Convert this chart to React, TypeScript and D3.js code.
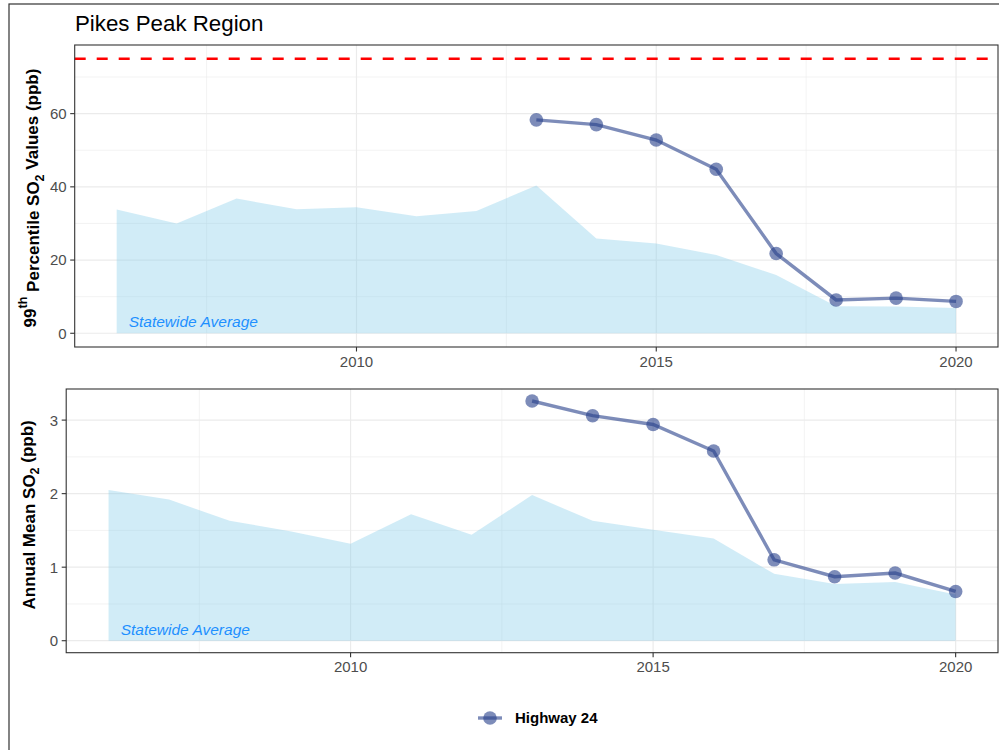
import React from "react";
import * as d3 from "d3";

const years = [2006, 2007, 2008, 2009, 2010, 2011, 2012, 2013, 2014, 2015, 2016, 2017, 2018, 2019, 2020];
const state99 = [33.8, 30.0, 36.8, 33.9, 34.4, 32.0, 33.4, 40.4, 25.9, 24.5, 21.4, 15.9, 7.4, 7.3, 6.9];
const stateMean = [2.05, 1.92, 1.63, 1.49, 1.32, 1.72, 1.44, 1.98, 1.63, 1.51, 1.39, 0.91, 0.77, 0.80, 0.63];

const siteYears = [2013, 2014, 2015, 2016, 2017, 2018, 2019, 2020];
const site99 = [58.3, 57.0, 52.8, 44.8, 21.8, 9.1, 9.6, 8.7];
const siteMean = [3.26, 3.06, 2.94, 2.58, 1.10, 0.87, 0.92, 0.67];

const xTicks = [2010, 2015, 2020];
const xMinor = [2007.5, 2012.5, 2017.5];
const y99Ticks = [0, 20, 40, 60];
const y99Minor = [10, 30, 50, 70];
const yMeanTicks = [0, 1, 2, 3];
const yMeanMinor = [0.5, 1.5, 2.5];
const standard99 = 75;

const title = "Pikes Peak Region";
const legendLabel = "Highway 24";
const areaLabel = "Statewide Average";

const FONT = "Liberation Sans, Arial, Helvetica, sans-serif";
const LINE_COLOR = "#27408B";

type PanelProps = {
  left: number; top: number; right: number; bottom: number;
  yDomain: [number, number];
  yTicks: number[]; yMinor: number[];
  state: number[]; site: number[];
  hline?: number;
  labelY: number;
  yTitle: React.ReactNode;
  yTitleX: number;
  yTitleShift: number;
};

function Panel(p: PanelProps) {
  const x = d3.scaleLinear().domain([2005.3, 2020.7]).range([p.left, p.right]);
  const y = d3.scaleLinear().domain(p.yDomain).range([p.bottom, p.top]);
  const area = d3.area<number>().x((_, i) => x(years[i])).y0(y(0)).y1((d) => y(d));
  const line = d3.line<number>().x((_, i) => x(siteYears[i])).y((d) => y(d));
  const gridC = "#EBEBEB";
  return (
    <g>
      {p.yMinor.map((t) => (
        <line key={"ym" + t} x1={p.left} x2={p.right} y1={y(t)} y2={y(t)} stroke={gridC} strokeWidth={0.6} />
      ))}
      {xMinor.map((t) => (
        <line key={"xm" + t} x1={x(t)} x2={x(t)} y1={p.top} y2={p.bottom} stroke={gridC} strokeWidth={0.6} />
      ))}
      {p.yTicks.map((t) => (
        <line key={"yM" + t} x1={p.left} x2={p.right} y1={y(t)} y2={y(t)} stroke={gridC} strokeWidth={1.2} />
      ))}
      {xTicks.map((t) => (
        <line key={"xM" + t} x1={x(t)} x2={x(t)} y1={p.top} y2={p.bottom} stroke={gridC} strokeWidth={1.2} />
      ))}
      <path d={area(p.state) || ""} fill="#87CEEB" fillOpacity={0.38} />
      {p.hline !== undefined && (
        <line x1={p.left} x2={p.right} y1={y(p.hline)} y2={y(p.hline)} stroke="#FF0000" strokeWidth={2.6} strokeDasharray="11 11" />
      )}
      <text x={x(2006.2)} y={y(p.labelY)} dy="0.35em" fontFamily={FONT} fontSize={15.5} fontStyle="italic" fill="#1E90FF">
        {areaLabel}
      </text>
      <path d={line(p.site) || ""} fill="none" stroke={LINE_COLOR} strokeOpacity={0.6} strokeWidth={3.4} />
      {p.site.map((v, i) => (
        <circle key={i} cx={x(siteYears[i])} cy={y(v)} r={6.8} fill={LINE_COLOR} fillOpacity={0.6} />
      ))}
      <rect x={p.left} y={p.top} width={p.right - p.left} height={p.bottom - p.top} fill="none" stroke="#333333" strokeWidth={1.1} />
      {p.yTicks.map((t) => (
        <g key={"yt" + t}>
          <line x1={p.left - 4.5} x2={p.left} y1={y(t)} y2={y(t)} stroke="#333333" strokeWidth={1.1} />
          <text x={p.left - 8} y={y(t)} dy="0.36em" textAnchor="end" fontFamily={FONT} fontSize={15} fill="#4D4D4D">
            {t}
          </text>
        </g>
      ))}
      {xTicks.map((t) => (
        <g key={"xt" + t}>
          <line x1={x(t)} x2={x(t)} y1={p.bottom} y2={p.bottom + 4.5} stroke="#333333" strokeWidth={1.1} />
          <text x={x(t)} y={p.bottom + 19.7} textAnchor="middle" fontFamily={FONT} fontSize={15} fill="#4D4D4D">
            {t}
          </text>
        </g>
      ))}
      <text
        transform={`translate(${p.yTitleX},${(p.top + p.bottom) / 2 + p.yTitleShift}) rotate(-90)`}
        textAnchor="middle"
        fontFamily={FONT}
        fontSize={17}
        fontWeight="bold"
        fill="#000"
      >
        {p.yTitle}
      </text>
    </g>
  );
}

export default function App() {
  const lx = d3.scaleLinear().domain([0, 1]).range([478, 502]);
  return (
    <svg width={999} height={750} style={{ position: "absolute", left: 0, top: 0, background: "#fff" }}>
      <rect x={0} y={0} width={999} height={750} fill="#fff" />
      <rect x={9} y={4} width={1100} height={900} fill="none" stroke="#333333" strokeWidth={1.2} />
      <text x={75} y={31} fontFamily={FONT} fontSize={22.3} fill="#000">
        {title}
      </text>
      <Panel
        left={74.7}
        top={45}
        right={998}
        bottom={347}
        yDomain={[-3.75, 78.75]}
        yTicks={y99Ticks}
        yMinor={y99Minor}
        state={state99}
        site={site99}
        hline={standard99}
        labelY={3.3}
        yTitleX={36}
        yTitleShift={2}
        yTitle={
          <>
            <tspan>99</tspan>
            <tspan fontSize={12.5} dy="-0.7em">th</tspan>
            <tspan dy="0.7em"> Percentile SO</tspan>
            <tspan fontSize={12.5} dy="0.35em">2</tspan>
            <tspan dy="-0.35em"> Values (ppb)</tspan>
          </>
        }
      />
      <Panel
        left={66.2}
        top={389}
        right={998}
        bottom={652.7}
        yDomain={[-0.163, 3.423]}
        yTicks={yMeanTicks}
        yMinor={yMeanMinor}
        state={stateMean}
        site={siteMean}
        labelY={0.15}
        yTitleX={35}
        yTitleShift={-6}
        yTitle={
          <>
            <tspan>Annual Mean SO</tspan>
            <tspan fontSize={12.5} dy="0.35em">2</tspan>
            <tspan dy="-0.35em"> (ppb)</tspan>
          </>
        }
      />
      <g>
        <line x1={lx(0)} x2={lx(1)} y1={718} y2={718} stroke={LINE_COLOR} strokeOpacity={0.6} strokeWidth={3.4} />
        <circle cx={lx(0.5)} cy={718} r={6.8} fill={LINE_COLOR} fillOpacity={0.6} />
        <text x={515} y={718} dy="0.35em" fontFamily={FONT} fontSize={15} fontWeight="bold" fill="#000">
          {legendLabel}
        </text>
      </g>
    </svg>
  );
}
